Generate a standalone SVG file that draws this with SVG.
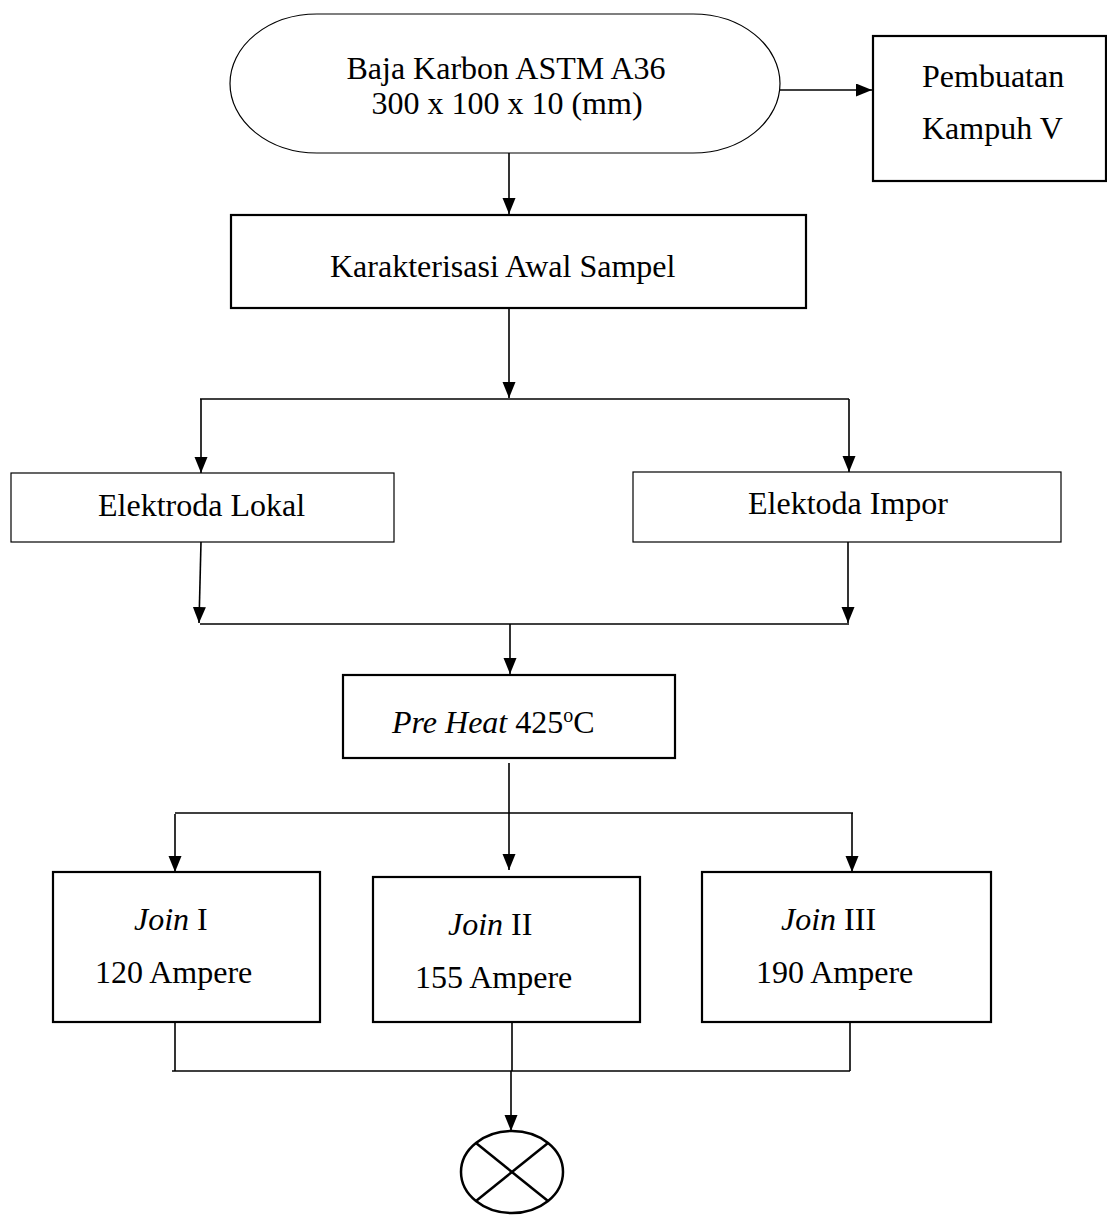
<svg xmlns="http://www.w3.org/2000/svg" width="1107" height="1215" viewBox="0 0 1107 1215">
<style>
  .box { fill: #ffffff; stroke: #000000; stroke-width: 2.2; }
  .thin { fill: #ffffff; stroke: #000000; stroke-width: 1.2; }
  .conn { fill: none; stroke: #000000; stroke-width: 1.6; }
  .t { font-family: "Liberation Serif", "Times New Roman", serif; font-size: 32px; fill: #000000; }
  .i { font-style: italic; }
</style>
<defs>
  <marker id="arr" markerUnits="userSpaceOnUse" markerWidth="16" markerHeight="14" refX="16" refY="6.5" orient="auto">
    <path d="M0,0 L16,6.5 L0,13 Z" fill="#000000"/>
  </marker>
</defs>

<g id="connectors">
  <line class="conn" x1="509" y1="153" x2="509" y2="214" marker-end="url(#arr)"/>
  <line class="conn" x1="780" y1="90" x2="872" y2="90" marker-end="url(#arr)"/>
  <line class="conn" x1="509" y1="308" x2="509" y2="398" marker-end="url(#arr)"/>
  <line class="conn" x1="200" y1="399" x2="849" y2="399"/>
  <line class="conn" x1="201" y1="399" x2="201" y2="473" marker-end="url(#arr)"/>
  <line class="conn" x1="849" y1="399" x2="849" y2="472" marker-end="url(#arr)"/>
  <line class="conn" x1="201" y1="542" x2="199" y2="623" marker-end="url(#arr)"/>
  <line class="conn" x1="848" y1="542" x2="848" y2="623" marker-end="url(#arr)"/>
  <line class="conn" x1="200" y1="624" x2="849" y2="624"/>
  <line class="conn" x1="510" y1="624" x2="510" y2="674" marker-end="url(#arr)"/>
  <line class="conn" x1="509" y1="763" x2="509" y2="870" marker-end="url(#arr)"/>
  <line class="conn" x1="175" y1="813" x2="853" y2="813"/>
  <line class="conn" x1="175" y1="814" x2="175" y2="872" marker-end="url(#arr)"/>
  <line class="conn" x1="852" y1="813" x2="852" y2="872" marker-end="url(#arr)"/>
  <line class="conn" x1="175" y1="1022" x2="175" y2="1071"/>
  <line class="conn" x1="512" y1="1022" x2="512" y2="1071"/>
  <line class="conn" x1="850" y1="1022" x2="850" y2="1071"/>
  <line class="conn" x1="172" y1="1071" x2="850" y2="1071"/>
  <line class="conn" x1="511" y1="1071" x2="511" y2="1131" marker-end="url(#arr)"/>
</g>

<g id="start">
  <rect class="thin" x="230" y="14" width="550" height="139" rx="87" ry="69.5"/>
  <text class="t" x="506" y="79" text-anchor="middle">Baja Karbon ASTM A36</text>
  <text class="t" x="507" y="114" text-anchor="middle">300 x 100 x 10 (mm)</text>
</g>

<g id="pembuatan">
  <rect class="box" x="873" y="36" width="233" height="145"/>
  <text class="t" x="922" y="87">Pembuatan</text>
  <text class="t" x="922" y="139">Kampuh V</text>
</g>

<g id="karakterisasi">
  <rect class="box" x="231" y="215" width="575" height="93"/>
  <text class="t" x="330" y="277">Karakterisasi Awal Sampel</text>
</g>

<g id="lokal">
  <rect class="thin" x="11" y="473" width="383" height="69"/>
  <text class="t" x="98" y="516">Elektroda Lokal</text>
</g>

<g id="impor">
  <rect class="thin" x="633" y="472" width="428" height="70"/>
  <text class="t" x="748" y="514">Elektoda Impor</text>
</g>

<g id="preheat">
  <rect class="box" x="343" y="675" width="332" height="83"/>
  <text class="t" x="392" y="733"><tspan class="i">Pre Heat</tspan> 425<tspan font-size="20" dy="-11">o</tspan><tspan dy="11">C</tspan></text>
</g>

<g id="join1">
  <rect class="box" x="53" y="872" width="267" height="150"/>
  <text class="t" x="134" y="930"><tspan class="i">Join</tspan> I</text>
  <text class="t" x="95" y="983">120 Ampere</text>
</g>

<g id="join2">
  <rect class="box" x="373" y="877" width="267" height="145"/>
  <text class="t" x="448" y="935"><tspan class="i">Join</tspan> II</text>
  <text class="t" x="415" y="988">155 Ampere</text>
</g>

<g id="join3">
  <rect class="box" x="702" y="872" width="289" height="150"/>
  <text class="t" x="781" y="930"><tspan class="i">Join</tspan> III</text>
  <text class="t" x="756" y="983">190 Ampere</text>
</g>

<g id="end">
  <ellipse cx="512" cy="1172" rx="51" ry="41" fill="#ffffff" stroke="#000000" stroke-width="2.5"/>
  <line x1="476" y1="1143" x2="548" y2="1201" stroke="#000000" stroke-width="2.5"/>
  <line x1="548" y1="1143" x2="476" y2="1201" stroke="#000000" stroke-width="2.5"/>
</g>
</svg>
